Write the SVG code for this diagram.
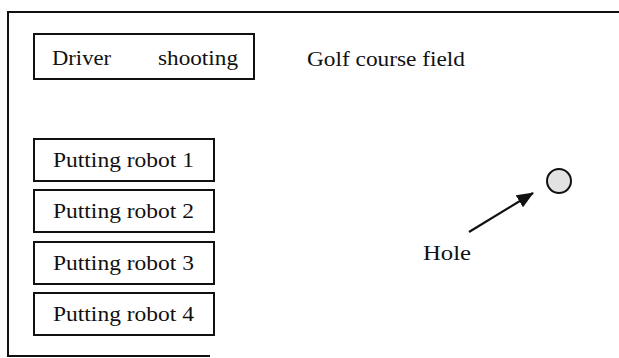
<svg xmlns="http://www.w3.org/2000/svg" width="619" height="358" viewBox="0 0 619 358">
  <style>
    .frame { fill: none; stroke: #111; stroke-width: 2; }
    .box { fill: #fff; stroke: #111; stroke-width: 2; }
    .label { font-family: "Liberation Serif", "Times New Roman", serif; font-size: 21px; fill: #111; }
    .hole { fill: #e2e2e2; stroke: #111; stroke-width: 2; }
    .arrow { stroke: #111; stroke-width: 2.2; fill: none; }
  </style>
  <defs>
    <marker id="head" markerUnits="userSpaceOnUse" markerWidth="18" markerHeight="14" refX="16" refY="7" orient="auto">
      <path d="M0,0 L17,7 L0,14 Z" fill="#111"/>
    </marker>
  </defs>
  <rect width="619" height="358" fill="#fff"/>

  <!-- field outline: open at the right and along most of the bottom -->
  <g id="field">
    <path class="frame" d="M619,12 H8 V356 H210"/>
    <text class="label" x="307" y="66" textLength="158" lengthAdjust="spacingAndGlyphs">Golf course field</text>
  </g>

  <g id="driver">
    <rect class="box" x="34" y="34" width="220" height="45"/>
    <text class="label" x="52" y="65" textLength="59" lengthAdjust="spacingAndGlyphs">Driver</text>
    <text class="label" x="158" y="65" textLength="80" lengthAdjust="spacingAndGlyphs">shooting</text>
  </g>

  <g id="robot1">
    <rect class="box" x="34" y="139" width="180" height="42"/>
    <text class="label" x="53" y="167" textLength="141" lengthAdjust="spacingAndGlyphs">Putting robot 1</text>
  </g>
  <g id="robot2">
    <rect class="box" x="34" y="190" width="180" height="42"/>
    <text class="label" x="53" y="218" textLength="141" lengthAdjust="spacingAndGlyphs">Putting robot 2</text>
  </g>
  <g id="robot3">
    <rect class="box" x="34" y="242" width="180" height="42"/>
    <text class="label" x="53" y="270" textLength="141" lengthAdjust="spacingAndGlyphs">Putting robot 3</text>
  </g>
  <g id="robot4">
    <rect class="box" x="34" y="293" width="180" height="42"/>
    <text class="label" x="53" y="321" textLength="141" lengthAdjust="spacingAndGlyphs">Putting robot 4</text>
  </g>

  <g id="hole">
    <circle class="hole" cx="559" cy="181" r="12"/>
    <text class="label" x="423" y="260" textLength="48" lengthAdjust="spacingAndGlyphs">Hole</text>
  </g>

  <g id="connectors">
    <line class="arrow" x1="469" y1="232" x2="533" y2="193" marker-end="url(#head)"/>
  </g>
</svg>
